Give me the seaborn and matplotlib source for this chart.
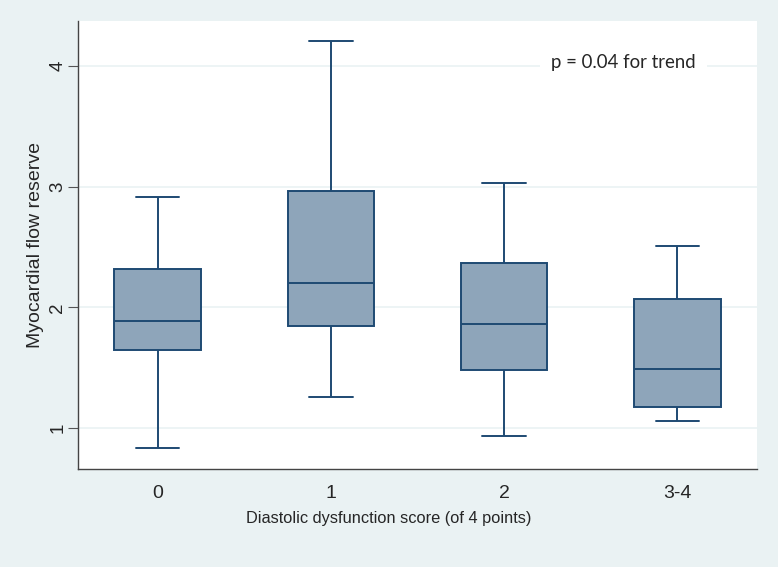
import pandas as pd
import matplotlib.pyplot as plt
import seaborn as sns
import numpy as np

sns.set_style("white")
plt.rcParams['font.family'] = ['Liberation Sans', 'DejaVu Sans']

# five-number summaries: low whisker, Q1, median, Q3, high whisker
scores = ['0', '1', '2', '3-4']
lows = [0.835, 1.258, 0.935, 1.059]
q1s = [1.647, 1.846, 1.481, 1.175]
medians = [1.887, 2.200, 1.862, 1.490]
q3s = [2.320, 2.964, 2.368, 2.070]
highs = [2.915, 4.207, 3.030, 2.509]

rows = []
for i, s in enumerate(scores):
    for v in [lows[i], q1s[i], medians[i], q3s[i], highs[i]]:
        rows.append({'score': s, 'mfr': v})
df = pd.DataFrame(rows)

bg = '#EAF2F3'
fill = '#8EA5BA'
edge = '#1E4A73'

fig = plt.figure(figsize=(7.78, 5.67), dpi=100, facecolor=bg)
ax = fig.add_axes([78/778, 1 - 469/567, (757 - 78)/778, (469 - 21)/567])
ax.set_facecolor('white')

sns.boxplot(data=df, x='score', y='mfr', order=scores, whis=(0, 100),
            width=0.5, color=fill, linewidth=1.4, ax=ax,
            boxprops=dict(facecolor=fill, edgecolor=edge),
            medianprops=dict(color=edge), whiskerprops=dict(color=edge),
            capprops=dict(color=edge), showfliers=False)
for line in ax.lines:
    line.set_color(edge)

ax.set_xlim(-0.46, 3.46)
ax.set_ylim(0.66, 4.373)
ax.set_yticks([1, 2, 3, 4])
ax.set_yticklabels(['1', '2', '3', '4'], rotation=90, va='center', fontsize=13.5)
ax.tick_params(axis='y', left=True, length=7, color='#555555', pad=1.5)
ax.tick_params(axis='x', bottom=False, labelsize=14, pad=8)
ax.yaxis.grid(True, color=bg, linewidth=1.2)
ax.set_axisbelow(True)
for side in ['top', 'right']:
    ax.spines[side].set_visible(False)
for side in ['left', 'bottom']:
    ax.spines[side].set_color('#444444')
    ax.spines[side].set_linewidth(1.0)

ax.set_xlabel('Diastolic dysfunction score (of 4 points)', fontsize=11.8)
ax.xaxis.set_label_coords((389 - 78) / 679, -0.094)
ax.xaxis.label.set_va('top')
ax.set_ylabel('Myocardial flow reserve', fontsize=14, labelpad=4)

ax.text(2.69, 4.03, 'p = 0.04 for trend', family=['Lato', 'DejaVu Sans'], fontsize=13.4,
        ha='center', va='center',
        bbox=dict(facecolor='white', edgecolor='none', pad=8))

fig.savefig('out.png', dpi=100, facecolor=bg)
